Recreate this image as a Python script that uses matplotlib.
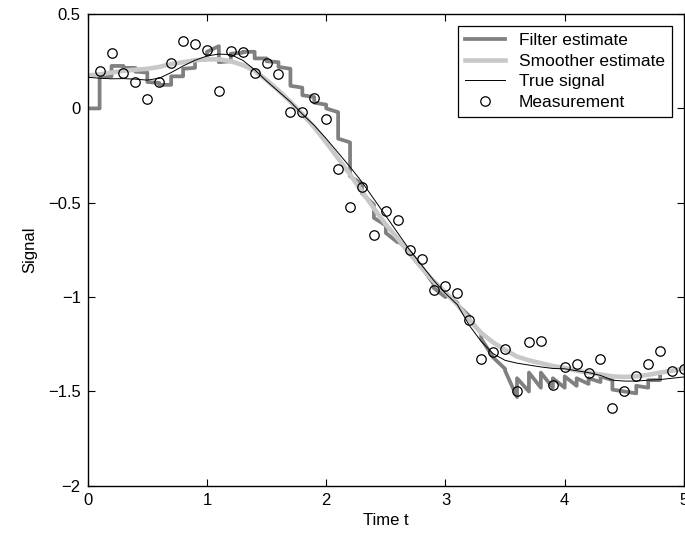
import numpy as np
import matplotlib
matplotlib.use('Agg')
import matplotlib.pyplot as plt

plt.rcParams['font.family'] = ['Liberation Sans', 'DejaVu Sans']
plt.rcParams['font.size'] = 12

# time grid of the smooth curves (0 .. 5, step 0.1)
t_grid = np.linspace(0, 5, 51)
true_sig = [0.165, 0.16, 0.157, 0.158, 0.155, 0.15, 0.16, 0.19, 0.225, 0.255,
            0.278, 0.288, 0.285, 0.255, 0.205, 0.145, 0.09, 0.035, -0.03, -0.09,
            -0.16, -0.235, -0.31, -0.39, -0.48, -0.57, -0.66, -0.75, -0.83, -0.91,
            -0.98, -1.04, -1.15, -1.235, -1.30, -1.335, -1.35, -1.36, -1.37, -1.378,
            -1.38, -1.39, -1.40, -1.415, -1.44, -1.445, -1.445, -1.44, -1.437, -1.43,
            -1.423]
smooth_est = [0.175, 0.18, 0.19, 0.20, 0.205, 0.21, 0.22, 0.235, 0.245, 0.255,
              0.26, 0.26, 0.25, 0.23, 0.20, 0.15, 0.095, 0.035, -0.03, -0.10,
              -0.18, -0.265, -0.35, -0.44, -0.53, -0.615, -0.69, -0.77, -0.845, -0.915,
              -0.975, -1.04, -1.12, -1.19, -1.24, -1.28, -1.315, -1.335, -1.35, -1.365,
              -1.375, -1.39, -1.40, -1.41, -1.42, -1.423, -1.42, -1.412, -1.40, -1.39,
              -1.378]

# measurements at t = 0.1 .. 5.0
t_meas = np.linspace(0.1, 5, 50)
meas = [0.198, 0.295, 0.187, 0.141, 0.051, 0.138, 0.24, 0.355, 0.344, 0.311,
        0.09, 0.306, 0.298, 0.187, 0.24, 0.18, -0.02, -0.02, 0.055, -0.055,
        -0.323, -0.52, -0.418, -0.673, -0.546, -0.59, -0.752, -0.80, -0.962, -0.94,
        -0.978, -1.12, -1.33, -1.29, -1.277, -1.50, -1.24, -1.23, -1.467, -1.37,
        -1.356, -1.40, -1.326, -1.59, -1.497, -1.42, -1.357, -1.287, -1.393, -1.38]

# filter estimate: value just before / just after each update (t = 0 .. 4.8)
t_filt = np.linspace(0, 4.8, 49)
filt_pre = [0, 0, 0.17, 0.225, 0.215, 0.19, 0.135, 0.125, 0.17, 0.215,
            0.26, 0.33, 0.25, 0.295, 0.30, 0.265, 0.245, 0.21, 0.11, 0.06,
            0.02, -0.02, -0.18, -0.40, -0.51, -0.62, -0.71, -0.76, -0.84, -0.93,
            -1.0, -1.03, -1.10, -1.19, -1.32, -1.38, -1.53, -1.50, -1.48, -1.48,
            -1.48, -1.47, -1.46, -1.45, -1.44, -1.50, -1.51, -1.48, -1.44]
filt_post = [0, 0.17, 0.225, 0.215, 0.195, 0.14, 0.125, 0.17, 0.21, 0.255,
             0.30, 0.245, 0.29, 0.30, 0.265, 0.25, 0.22, 0.12, 0.07, 0.03,
             0.0, -0.16, -0.36, -0.45, -0.58, -0.66, -0.70, -0.76, -0.84, -0.95,
             -0.98, -1.04, -1.12, -1.22, -1.32, -1.39, -1.43, -1.40, -1.40, -1.43,
             -1.42, -1.43, -1.43, -1.42, -1.49, -1.50, -1.47, -1.44, -1.42]

fx = np.repeat(t_filt, 2)
fy = np.column_stack([filt_pre, filt_post]).ravel()

fig = plt.figure(figsize=(6.85, 5.41), dpi=100)
ax = fig.add_axes([0.128, 0.102, 0.8705, 0.872])

ax.plot(fx, fy, color='#808080', lw=2.7, label='Filter estimate')
ax.plot(t_grid, smooth_est, color='#c8c8c8', lw=3.3, label='Smoother estimate')
ax.plot(t_grid, true_sig, color='black', lw=0.7, label='True signal')
ax.plot(t_meas, meas, 'o', mfc='none', mec='black', mew=0.9, ms=6.8,
        label='Measurement')

ax.set_xlim(0, 5)
ax.set_ylim(-2, 0.5)
ax.set_xticks([0, 1, 2, 3, 4, 5])
ax.set_yticks([-2, -1.5, -1, -0.5, 0, 0.5])
ax.set_yticklabels(['\u22122', '\u22121.5', '\u22121', '\u22120.5', '0', '0.5'])
ax.tick_params(direction='in', top=True, right=True, length=5, width=0.8,
               labelsize=12, pad=5)
for s in ax.spines.values():
    s.set_linewidth(1.0)

ax.set_xlabel('Time t', fontsize=12, labelpad=4)
ax.set_ylabel('Signal', fontsize=12, labelpad=8)

leg = ax.legend(loc='upper right', bbox_to_anchor=(0.98, 0.975), borderaxespad=0,
                fancybox=False, framealpha=1, edgecolor='black', fontsize=12.5,
                handlelength=2.3, labelspacing=0.32, borderpad=0.4)
leg.get_frame().set_linewidth(0.9)

fig.savefig('out.png', dpi=100)
